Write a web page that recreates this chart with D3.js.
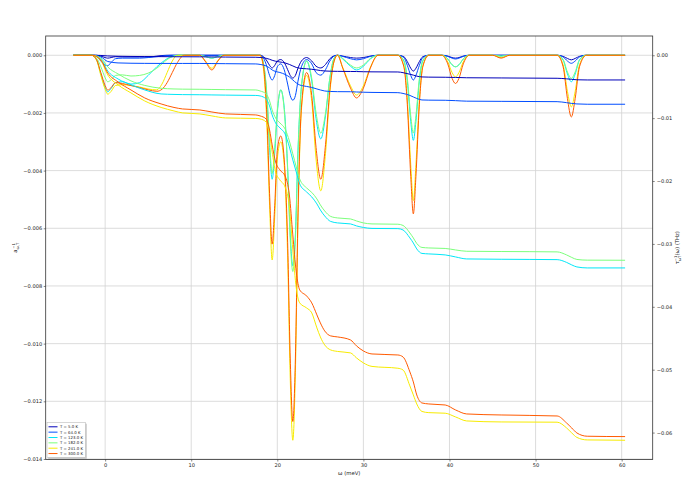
<!DOCTYPE html>
<html><head><meta charset="utf-8">
<script src="https://cdn.jsdelivr.net/npm/d3@7"></script>
<style>body{margin:0;background:#fff;} text{font-family:"DejaVu Sans",sans-serif;}</style>
</head><body><svg id="c" width="690" height="483"></svg>
<script>
// ---------- data ----------
const temps = [5, 64, 123, 182, 241, 300];
const legendLabels = ["T = 5.0 K", "T = 64.0 K", "T = 123.0 K", "T = 182.0 K", "T = 241.0 K", "T = 300.0 K"];
const colors = ["rgb(0,0,185)", "rgb(0,77,255)", "rgb(0,230,247)", "rgb(123,255,123)", "rgb(247,235,0)", "rgb(255,90,0)"];

const omegaPeak = [-3.7,-1.6,-1.0,-0.5,0.0,0.3,0.7,1.2,2.0,3.0,4.0,5.0,6.0,6.6,7.2,7.8,8.4,9.2,11.0,11.6,12.4,13.1,13.8,18.0,18.4,18.8,19.1,19.4,19.7,20.0,20.4,20.8,21.2,21.5,21.8,22.1,22.4,22.8,23.4,24.0,24.5,25.05,25.6,26.1,26.6,27.0,27.6,28.5,29.2,30.0,30.8,31.7,34.0,34.7,35.1,35.5,35.8,36.1,36.5,36.9,37.6,39.1,39.8,40.3,40.7,41.1,41.6,42.3,45.0,46.0,47.0,52.5,53.2,53.7,54.15,54.6,55.1,55.9,60.4];

const peak5 = [0,0,0,-0.00003,-0.00008,-0.0001,-0.00008,-0.00005,-0.00006,-0.00006,
 -0.00006,-0.00006,-0.00003,-0.00001,0,0,0,0,0,0,
 0,0,0,0,-0.00005,-0.0002,-0.00035,-0.00044,-0.00035,-0.0002,
 -0.00015,-0.00025,-0.0005,-0.0007,-0.00079,-0.0007,-0.00045,-0.0002,-0.00008,-0.0002,
 -0.00038,-0.00044,-0.00032,-0.00012,-0.00002,0,-0.00003,-0.00008,-0.0001,-0.00008,
 -0.00003,0,0,-0.00005,-0.00022,-0.00045,-0.00055,-0.00045,-0.00022,-0.00005,
 0,0,-0.00003,-0.00008,-0.0001,-0.00008,-0.00003,0,0,0,
 0,0,-0.00004,-0.00011,-0.00016,-0.00011,-0.00004,0,0];
const peak64 = [0,0,-0.00005,-0.0002,-0.00034,-0.00036,-0.00025,-0.00012,-0.0001,-0.0001,
 -0.0001,-0.00008,-0.00005,-0.00003,-0.00001,0,0,0,0,0,
 0,0,0,0,-0.0001,-0.0004,-0.0007,-0.00086,-0.0007,-0.0004,
 -0.0003,-0.0005,-0.001,-0.0014,-0.00156,-0.0014,-0.0009,-0.0004,-0.00015,-0.0003,
 -0.0006,-0.00069,-0.0005,-0.0002,-0.00003,0,-0.00004,-0.00012,-0.00016,-0.00012,
 -0.00004,0,0,-0.00008,-0.00035,-0.0007,-0.00086,-0.0007,-0.00035,-0.00008,
 0,0,-0.00004,-0.0001,-0.00013,-0.0001,-0.00004,0,0,0,
 0,0,-0.00006,-0.0002,-0.00028,-0.0002,-0.00006,0,0];
const peak123 = [0,0,-0.00016,-0.00065,-0.00112,-0.00127,-0.00115,-0.00095,-0.00092,-0.001,
 -0.00095,-0.0007,-0.0004,-0.00025,-0.00012,-0.00004,0,0,0,-0.00004,
 -0.0001,-0.00004,0,0,-0.0003,-0.0015,-0.0032,-0.0043,-0.0034,-0.002,
 -0.0012,-0.0018,-0.0039,-0.0062,-0.0073,-0.0062,-0.0033,-0.0011,-0.0002,-0.0009,
 -0.0022,-0.0029,-0.0021,-0.0008,-0.0001,0,-0.00013,-0.00038,-0.00051,-0.00038,
 -0.00013,0,0,-0.0002,-0.0009,-0.0023,-0.00295,-0.0023,-0.0009,-0.0002,
 0,0,-0.00013,-0.00033,-0.0004,-0.00033,-0.00013,0,0,-0.00003,
 0,0,-0.00017,-0.00065,-0.00092,-0.00065,-0.00017,0,0];
const peak182 = [0,0,-0.0001,-0.0004,-0.00078,-0.00092,-0.00085,-0.0007,-0.00068,-0.00072,
 -0.0007,-0.00062,-0.00045,-0.0003,-0.00015,-0.00005,0,0,0,-0.00004,
 -0.0001,-0.00004,0,0,-0.0003,-0.0014,-0.003,-0.0041,-0.0032,-0.0019,
 -0.0012,-0.0019,-0.004,-0.0064,-0.0075,-0.0064,-0.0034,-0.0011,-0.0002,-0.0008,
 -0.002,-0.0027,-0.002,-0.0008,-0.0001,0,-0.00011,-0.00034,-0.00044,-0.00034,
 -0.00011,0,0,-0.00018,-0.0008,-0.0021,-0.0027,-0.0021,-0.0008,-0.00018,
 0,0,-0.00013,-0.00033,-0.0004,-0.00033,-0.00013,0,0,-0.00003,
 0,0,-0.00015,-0.00058,-0.0008,-0.00058,-0.00015,0,0];
const peak241 = [0,0,-0.00017,-0.0007,-0.00118,-0.00135,-0.00125,-0.00105,-0.00102,-0.00105,
 -0.0011,-0.00117,-0.0012,-0.001,-0.0006,-0.0002,0,0,0,-0.00018,
 -0.00045,-0.00018,0,0,-0.0005,-0.0025,-0.0052,-0.0071,-0.0056,-0.0036,
 -0.003,-0.0038,-0.007,-0.0112,-0.01335,-0.011,-0.0058,-0.0019,-0.0007,-0.0016,
 -0.0036,-0.0047,-0.0034,-0.0013,-0.0002,0,-0.00042,-0.00106,-0.00138,-0.00106,
 -0.00042,0,0,-0.00037,-0.00155,-0.0038,-0.00504,-0.0038,-0.00155,-0.00037,
 0,0,-0.00023,-0.0006,-0.00075,-0.0006,-0.00023,0,0,-0.00008,
 0,0,-0.00033,-0.00125,-0.00179,-0.00125,-0.00033,0,0];
const peak300 = [0,0,-0.00015,-0.0006,-0.00105,-0.00121,-0.00112,-0.00095,-0.00098,-0.00105,
 -0.00112,-0.0012,-0.00125,-0.00118,-0.00095,-0.0006,-0.00025,0,0,-0.0002,
 -0.00051,-0.0002,0,0,-0.0004,-0.0022,-0.0048,-0.00655,-0.0052,-0.0033,
 -0.0028,-0.0036,-0.0065,-0.0105,-0.0127,-0.0105,-0.0055,-0.0018,-0.0006,-0.0014,
 -0.0032,-0.0043,-0.0031,-0.0012,-0.0002,0,-0.00045,-0.00114,-0.00148,-0.00114,
 -0.00045,0,0,-0.0004,-0.0017,-0.0042,-0.0055,-0.0042,-0.0017,-0.0004,
 0,0,-0.0003,-0.0008,-0.00098,-0.0008,-0.0003,0,0,-0.0001,
 0,0,-0.0004,-0.0015,-0.00214,-0.0015,-0.0004,0,0];

const omegaCum = [-3.7,-1.5,-0.5,0.3,1.5,3.0,4.6,6.5,8.0,9.0,11.0,12.4,14.0,17.5,18.0,18.7,19.1,19.4,19.8,20.3,20.9,21.4,21.8,22.2,22.6,23.4,24.0,24.6,25.0,25.5,26.2,27.0,28.5,29.2,30.0,31.0,34.0,34.6,35.4,35.8,36.2,36.8,37.6,39.5,40.7,42.0,46.0,52.5,53.6,54.2,54.8,56.0,60.4];

const cum5 = [0,0,-0.00003,-0.00011,-0.00016,-0.00019,-0.00021,-0.00022,-0.00024,-0.00024,
 -0.00025,-0.00027,-0.00029,-0.00032,-0.00035,-0.00048,-0.00064,-0.0008,-0.00095,-0.00107,
 -0.00122,-0.00146,-0.0017,-0.00194,-0.00207,-0.00215,-0.00223,-0.00234,-0.00243,-0.0025,
 -0.00254,-0.00256,-0.00258,-0.00259,-0.00262,-0.00264,-0.00266,-0.00277,-0.00302,-0.00316,
 -0.00332,-0.00345,-0.00348,-0.0035,-0.00353,-0.00358,-0.00361,-0.00366,-0.00375,-0.00383,
 -0.0039,-0.00393,-0.00393];
const cum64 = [0,0,-0.00027,-0.00099,-0.00122,-0.00127,-0.00129,-0.0013,-0.0013,-0.0013,
 -0.0013,-0.00132,-0.00134,-0.00138,-0.00146,-0.0017,-0.00202,-0.00234,-0.00258,-0.00274,
 -0.00305,-0.00345,-0.00393,-0.0044,-0.00472,-0.00496,-0.00512,-0.00536,-0.00552,-0.00568,
 -0.00576,-0.00579,-0.0058,-0.00584,-0.00588,-0.00591,-0.00595,-0.00607,-0.00639,-0.00663,
 -0.00687,-0.00711,-0.00714,-0.00716,-0.00722,-0.0073,-0.00733,-0.00738,-0.00754,-0.00766,
 -0.00774,-0.00779,-0.00779];
const cum123 = [0,0,-0.00059,-0.0025,-0.00377,-0.0047,-0.00552,-0.00615,-0.00623,-0.00626,
 -0.00628,-0.00631,-0.00634,-0.00639,-0.00647,-0.00695,-0.00806,-0.00949,-0.01076,-0.01156,
 -0.01251,-0.01458,-0.01665,-0.01855,-0.02046,-0.02174,-0.02253,-0.02364,-0.0246,-0.02555,
 -0.02643,-0.02666,-0.02682,-0.02714,-0.02738,-0.02754,-0.02757,-0.02778,-0.02905,-0.02985,
 -0.0308,-0.03151,-0.03159,-0.03175,-0.03207,-0.03239,-0.03244,-0.0325,-0.03294,-0.03334,
 -0.03366,-0.03382,-0.03382];
const cum182 = [0,0,-0.00043,-0.00186,-0.00297,-0.00408,-0.0048,-0.00525,-0.00536,-0.00539,
 -0.00541,-0.00544,-0.00547,-0.00552,-0.00568,-0.00615,-0.00727,-0.0087,-0.00997,-0.01076,
 -0.01172,-0.01363,-0.01569,-0.01776,-0.01967,-0.0211,-0.02181,-0.02285,-0.0238,-0.02475,
 -0.02563,-0.02587,-0.02603,-0.02635,-0.02666,-0.02682,-0.02687,-0.02706,-0.02826,-0.02905,
 -0.02993,-0.03056,-0.03064,-0.03072,-0.03096,-0.03117,-0.03121,-0.03127,-0.03175,-0.03215,
 -0.03247,-0.03258,-0.0326];
const cum241 = [0,0,-0.00083,-0.00313,-0.0047,-0.00599,-0.00727,-0.0083,-0.00886,-0.00917,
 -0.00933,-0.00965,-0.00997,-0.01005,-0.01013,-0.01061,-0.01267,-0.01538,-0.01856,-0.01983,
 -0.02094,-0.02412,-0.03096,-0.037,-0.03938,-0.04018,-0.04097,-0.04336,-0.04479,-0.04606,
 -0.04686,-0.0471,-0.04733,-0.04813,-0.04892,-0.04948,-0.04977,-0.05004,-0.05258,-0.05401,
 -0.05545,-0.05664,-0.05683,-0.05692,-0.05751,-0.05815,-0.05831,-0.05835,-0.05926,-0.06006,
 -0.06077,-0.06117,-0.06122];
const cum300 = [0,0,-0.00075,-0.00281,-0.00425,-0.00552,-0.00679,-0.00774,-0.0083,-0.00854,
 -0.0087,-0.00902,-0.00933,-0.00949,-0.00965,-0.01013,-0.01188,-0.01426,-0.01697,-0.01824,
 -0.01919,-0.02221,-0.02857,-0.03445,-0.03731,-0.03827,-0.03938,-0.04129,-0.04256,-0.04383,
 -0.04463,-0.04479,-0.04527,-0.04622,-0.04702,-0.0475,-0.04766,-0.04797,-0.05036,-0.05195,
 -0.05402,-0.05529,-0.05545,-0.05561,-0.0564,-0.05704,-0.0572,-0.05736,-0.05847,-0.05927,
 -0.06006,-0.06058,-0.06064];

const xTicks = [0, 10, 20, 30, 40, 50, 60];
const yLeftTicks = [0, -0.002, -0.004, -0.006, -0.008, -0.010, -0.012, -0.014];
const yRightTicks = [0, -0.01, -0.02, -0.03, -0.04, -0.05, -0.06];

const peakSeries = [peak5, peak64, peak123, peak182, peak241, peak300];
const cumSeries = [cum5, cum64, cum123, cum182, cum241, cum300];

// ---------- layout ----------
const W = 690, H = 483;
const L = 45.7, R = 652.7, T = 36, B = 459.5;
const svg = d3.select("#c");

function padded(ext) { const d = ext[1] - ext[0]; return [ext[0] - 0.05 * d, ext[1] + 0.05 * d]; }
const xExt = padded(d3.extent(omegaPeak.concat(omegaCum)));
const yLExt = padded(d3.extent(peakSeries.flat()));
const yRExt = padded(d3.extent(cumSeries.flat()));

const x = d3.scaleLinear().domain(xExt).range([L, R]);
const yL = d3.scaleLinear().domain(yLExt).range([B, T]);
const yR = d3.scaleLinear().domain(yRExt).range([B, T]);

// grid
const grid = svg.append("g");
grid.selectAll("line.gx").data(xTicks).join("line")
  .attr("x1", d => x(d)).attr("x2", d => x(d)).attr("y1", T).attr("y2", B)
  .attr("stroke", "#d3d3d3").attr("stroke-width", 0.8);
grid.selectAll("line.gy").data(yLeftTicks).join("line")
  .attr("x1", L).attr("x2", R).attr("y1", d => yL(d)).attr("y2", d => yL(d))
  .attr("stroke", "#d3d3d3").attr("stroke-width", 0.8);

// lines
const clip = svg.append("clipPath").attr("id", "clp").append("rect")
  .attr("x", L).attr("y", T).attr("width", R - L).attr("height", B - T);
const plot = svg.append("g").attr("clip-path", "url(#clp)");

const lineL = d3.line().x(d => x(d[0])).y(d => yL(d[1])).curve(d3.curveMonotoneX);
const lineR = d3.line().x(d => x(d[0])).y(d => yR(d[1])).curve(d3.curveMonotoneX);

peakSeries.forEach((s, i) => {
  const pts = omegaPeak.map((w, k) => [w, s[k]]).filter(p => p[1] !== undefined);
  plot.append("path").attr("d", lineL(pts)).attr("fill", "none")
    .attr("stroke", colors[i]).attr("stroke-width", 1);
});
cumSeries.forEach((s, i) => {
  const pts = omegaCum.map((w, k) => [w, s[k]]).filter(p => p[1] !== undefined);
  plot.append("path").attr("d", lineR(pts)).attr("fill", "none")
    .attr("stroke", colors[i]).attr("stroke-width", 1);
});

// frame
svg.append("rect").attr("x", L).attr("y", T).attr("width", R - L).attr("height", B - T)
  .attr("fill", "none").attr("stroke", "#333").attr("stroke-width", 0.8);

// axes
const fs = 5.1;
function styleAxis(g) {
  g.select(".domain").remove();
  g.selectAll(".tick line").attr("stroke", "#333").attr("stroke-width", 0.6);
  g.selectAll(".tick text").attr("fill", "#222").style("font-size", fs + "px")
    .style("font-family", "DejaVu Sans");
}
svg.append("g").attr("transform", `translate(0,${B})`)
  .call(d3.axisBottom(x).tickValues(xTicks).tickSize(2).tickPadding(1.5).tickFormat(d3.format("d")))
  .call(styleAxis);
svg.append("g").attr("transform", `translate(${L},0)`)
  .call(d3.axisLeft(yL).tickValues(yLeftTicks).tickSize(2).tickPadding(1.5).tickFormat(d3.format(".3f")))
  .call(styleAxis);
svg.append("g").attr("transform", `translate(${R},0)`)
  .call(d3.axisRight(yR).tickValues(yRightTicks).tickSize(2).tickPadding(2).tickFormat(d3.format(".2f")))
  .call(styleAxis);

// axis labels
svg.append("text").attr("x", (L + R) / 2).attr("y", 475).attr("text-anchor", "middle")
  .style("font-size", "5.3px").attr("fill", "#222").text("ω (meV)");

const yl = svg.append("text").attr("transform", `translate(17,${(T + B) / 2}) rotate(-90)`)
  .attr("text-anchor", "middle").style("font-size", "5.3px").attr("fill", "#222");
yl.append("tspan").text("a");
yl.append("tspan").attr("dy", "1.6").style("font-size", "3.8px").text("ω,T");
yl.append("tspan").attr("dx", "-6").attr("dy", "-3.8").style("font-size", "3.8px").text("−1");

const yr = svg.append("text").attr("transform", `translate(679,${(T + B) / 2}) rotate(-90)`)
  .attr("text-anchor", "middle").style("font-size", "5.3px").attr("fill", "#222");
yr.append("tspan").text("τ");
yr.append("tspan").attr("dy", "1.6").style("font-size", "3.8px").text("ωT");
yr.append("tspan").attr("dx", "-5.5").attr("dy", "-3.8").style("font-size", "3.8px").text("−1");
yr.append("tspan").attr("dy", "2.2").text("(ω) (THz)");

// legend
const lg = svg.append("g");
const lx = 47, ly = 422.5, lw = 38.5, lh = 35;
lg.append("rect").attr("x", lx + 1.2).attr("y", ly + 1.2).attr("width", lw).attr("height", lh)
  .attr("fill", "#888").attr("opacity", 0.5);
lg.append("rect").attr("x", lx).attr("y", ly).attr("width", lw).attr("height", lh)
  .attr("fill", "#fff").attr("stroke", "#bbb").attr("stroke-width", 0.6);
legendLabels.forEach((t, i) => {
  const yy = ly + 4.3 + i * 5.35;
  lg.append("line").attr("x1", lx + 1.5).attr("x2", lx + 10.5).attr("y1", yy).attr("y2", yy)
    .attr("stroke", colors[i]).attr("stroke-width", 1);
  lg.append("text").attr("x", lx + 13).attr("y", yy + 1.4).style("font-size", "3.9px")
    .attr("fill", "#222").text(t);
});
</script>
</body></html>
